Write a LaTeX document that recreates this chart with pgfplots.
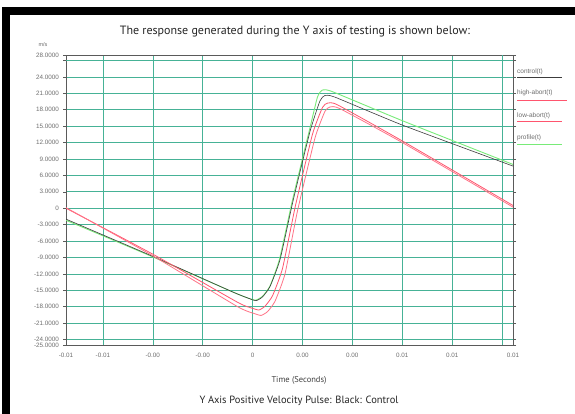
\documentclass[border=0pt]{standalone}
\usepackage{pgfplots}
\pgfplotsset{compat=1.18}
\usepackage{fontspec}
\setmainfont{PT Sans}
\newfontfamily\tickfont{Liberation Sans}

\definecolor{gridteal}{RGB}{70,178,150}
\definecolor{framegray}{RGB}{90,90,90}
\definecolor{ctrlblack}{RGB}{60,60,60}
\definecolor{abortred}{RGB}{255,85,110}
\definecolor{abortred2}{RGB}{255,115,135}
\definecolor{profgreen}{RGB}{120,235,120}
\definecolor{labgray}{RGB}{110,110,110}

\begin{document}
\begin{tikzpicture}[x=1pt,y=1pt]
\useasboundingbox (0,0) rectangle (575,414);
\fill[white] (0,0) rectangle (575,414);
% black frame bits of the screenshot
\fill[black] (2,399) rectangle (575,407);
\fill[black] (2,0) rectangle (10,407);

\begin{axis}[
  at={(66pt,69pt)}, anchor=south west,
  width=447pt, height=290pt, scale only axis,
  xmin=-0.00748, xmax=0.01044,
  ymin=-25, ymax=28,
  scaled x ticks=false,
  axis line style={framegray, line width=0.6pt},
  xtick={-0.00748,-0.006,-0.004,-0.002,0,0.002,0.004,0.006,0.008,0.01044},
  xticklabels={-0.01,-0.01,-0.00,-0.00,0,0.00,0.00,0.01,0.01,0.01},
  ytick={-25,-24,-21,-18,-15,-12,-9,-6,-3,0,3,6,9,12,15,18,21,24,28},
  yticklabels={-25.0000,-24.0000,-21.0000,-18.0000,-15.0000,-12.0000,-9.0000,-6.0000,-3.0000,0,3.0000,6.0000,9.0000,12.0000,15.0000,18.0000,21.0000,24.0000,28.0000},
  extra x ticks={0.01}, extra x tick labels={},
  extra y ticks={27}, extra y tick labels={},
  grid=major,
  major grid style={gridteal, line width=0.6pt},
  tick align=outside,
  major tick length=3pt,
  tick style={framegray, line width=0.5pt},
  xtick style={draw=none},
  ticklabel style={font=\tickfont\fontsize{6.3}{7}\selectfont, text=labgray},
  yticklabel style={xshift=-0.5pt},
  xticklabel style={yshift=-2pt},
  clip=true,
]
% profile(t)
\addplot[profgreen, line width=0.9pt, smooth, tension=0.3] coordinates {
(-0.00748,-2.2) (-0.004,-8.9) (-0.0008,-15.3) (-0.0002,-16.4) (0.00012,-16.8)
(0.0004,-16.1) (0.0007,-14.2) (0.00108,-9.3) (0.0016,1.5) (0.00228,14.3)
(0.0026,20.3) (0.0028,21.6) (0.0032,21.3) (0.006,16.0) (0.01044,8.0)
};
% control(t)
\addplot[ctrlblack, line width=0.6pt, smooth, tension=0.3] coordinates {
(-0.00748,-2.0) (-0.004,-8.8) (-0.0008,-15.3) (-0.0002,-16.4) (0.00014,-16.9)
(0.0004,-16.2) (0.0007,-14.3) (0.0011,-9.4) (0.00162,1.3) (0.0023,14.0)
(0.0027,19.6) (0.0029,20.6) (0.0033,20.3) (0.006,15.2) (0.01044,7.7)
};
% high-abort(t)
\addplot[abortred, line width=0.8pt, smooth, tension=0.3] coordinates {
(-0.00748,0.0) (-0.004,-8.4) (-0.0006,-17.2) (0,-18.3) (0.00026,-18.6)
(0.0005,-17.9) (0.0008,-16.0) (0.0012,-11.0) (0.00172,0.5) (0.0024,13.5)
(0.0028,18.4) (0.003,19.2) (0.0034,18.9) (0.006,12.3) (0.01044,0.5)
};
% low-abort(t)
\addplot[abortred2, line width=0.8pt, smooth, tension=0.3] coordinates {
(-0.00748,0.1) (-0.004,-8.7) (-0.0006,-18.0) (0.0001,-19.3) (0.00034,-19.6)
(0.0006,-18.9) (0.0009,-17.0) (0.0013,-12.0) (0.0018,-0.5) (0.0025,12.8)
(0.0029,17.7) (0.0031,18.5) (0.0035,18.2) (0.006,12.0) (0.01044,0.2)
};
\end{axis}

% unit label
\node[font=\tickfont\fontsize{5.5}{6}\selectfont, text=labgray] at (43,369) {m/s};

% title and captions
\node[font=\fontsize{12}{14}\selectfont, text=black!85] at (295,382) {The response generated during the Y axis of testing is shown below:};
\node[font=\fontsize{8.5}{10}\selectfont, text=black!75] at (299,34) {Time (Seconds)};
\node[font=\fontsize{10.5}{12}\selectfont, text=black!85] at (299,13) {Y Axis Positive Velocity Pulse: Black: Control};

% legend
\begin{scope}[every node/.style={anchor=west, inner sep=0pt, font=\tickfont\fontsize{6.5}{7}\selectfont, text=labgray}]
\node at (517,342) {control(t)};
\draw[ctrlblack, line width=0.6pt] (517,337) -- (562,337);
\node at (517,321) {high-abort(t)};
\draw[abortred, line width=0.7pt] (517,314) -- (567,314);
\node at (517,298) {low-abort(t)};
\draw[abortred, line width=0.7pt] (517,293) -- (562,293);
\node at (517,276) {profile(t)};
\draw[profgreen, line width=0.8pt] (517,270) -- (562,270);
\end{scope}
\end{tikzpicture}
\end{document}
